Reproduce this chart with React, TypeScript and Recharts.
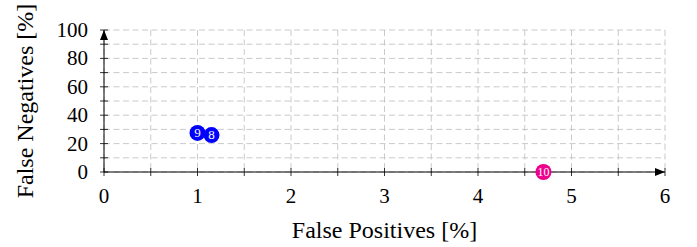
import { ScatterChart, Scatter, XAxis, YAxis, CartesianGrid } from 'recharts';

// values
const pointLabels = ['9', '8', '10'];
const falsePositives = [1.0, 1.15, 4.7];
const falseNegatives = [27.5, 26, 0];
const pointColors = ['#0000ff', '#0000ff', '#ec008c'];

const xTicks = [0, 0.5, 1, 1.5, 2, 2.5, 3, 3.5, 4, 4.5, 5, 5.5, 6];
const yTicks = [0, 10, 20, 30, 40, 50, 60, 70, 80, 90, 100];
const xLabelled = [0, 1, 2, 3, 4, 5, 6];
const yLabelled = [0, 20, 40, 60, 80, 100];

const FONT = "'Liberation Serif', 'Times New Roman', 'DejaVu Serif', serif";
const txt = { fontFamily: FONT };

const points = pointLabels.map((label, i) => ({
  label,
  fp: falsePositives[i],
  fn: falseNegatives[i],
  color: pointColors[i],
}));

function XTick(props: any) {
  const { x, y, payload } = props;
  const v = payload.value;
  return (
    <g>
      <line x1={x} x2={x} y1={y - 4} y2={y + 4} stroke="#000" strokeWidth={0.8} />
      {v === 6 && <polygon points={`${x},${y} ${x - 10},${y - 4} ${x - 10},${y + 4}`} fill="#000" />}
      {xLabelled.includes(v) && (
        <text x={x} y={y + 31} textAnchor="middle" style={txt} fontSize={21} fill="#000">
          {v}
        </text>
      )}
    </g>
  );
}

function YTick(props: any) {
  const { x, y, payload } = props;
  const v = payload.value;
  return (
    <g>
      <line x1={x - 4} x2={x + 4} y1={y} y2={y} stroke="#000" strokeWidth={0.8} />
      {v === 100 && <polygon points={`${x},${y} ${x - 4},${y + 10} ${x + 4},${y + 10}`} fill="#000" />}
      {yLabelled.includes(v) && (
        <text x={x - 16} y={y + 7} textAnchor="end" style={txt} fontSize={21} fill="#000">
          {v}
        </text>
      )}
    </g>
  );
}

function Dot(props: any) {
  const { cx, cy, payload } = props;
  return (
    <g>
      <circle cx={cx} cy={cy} r={8} fill={payload.color} />
      <text
        x={cx}
        y={cy + 4}
        textAnchor="middle"
        style={txt}
        fontSize={payload.label.length > 1 ? 12 : 13}
        fill="#fff"
      >
        {payload.label}
      </text>
    </g>
  );
}

export default function App() {
  return (
    <div style={{ position: 'absolute', left: 0, top: 0, background: '#fff', fontFamily: FONT }}>
      <ScatterChart width={697} height={247} margin={{ top: 30, right: 32, bottom: 0, left: 0 }}>
        <CartesianGrid stroke="#bdbdbd" strokeDasharray="6 3.5" strokeWidth={0.8} />
        <XAxis
          type="number"
          dataKey="fp"
          domain={[0, 6]}
          ticks={xTicks}
          interval={0}
          height={75}
          tickSize={0}
          tickMargin={0}
          axisLine={{ stroke: '#000', strokeWidth: 1 }}
          tick={<XTick />}
          label={{
            content: ({ viewBox }: any) => (
              <text
                x={viewBox.x + viewBox.width / 2}
                y={viewBox.y + 66}
                textAnchor="middle"
                style={txt}
                fontSize={24}
                fill="#000"
              >
                False Positives [%]
              </text>
            ),
          }}
        />
        <YAxis
          type="number"
          dataKey="fn"
          domain={[0, 100]}
          ticks={yTicks}
          interval={0}
          width={104}
          tickSize={0}
          tickMargin={0}
          axisLine={{ stroke: '#000', strokeWidth: 1 }}
          tick={<YTick />}
          label={{
            content: ({ viewBox }: any) => {
              const cx = 33;
              const cy = viewBox.y + viewBox.height / 2;
              return (
                <text
                  x={cx}
                  y={cy}
                  transform={`rotate(-90, ${cx}, ${cy})`}
                  textAnchor="middle"
                  style={txt}
                  fontSize={24}
                  fill="#000"
                >
                  False Negatives [%]
                </text>
              );
            },
          }}
        />
        <Scatter data={points} shape={<Dot />} isAnimationActive={false} />
      </ScatterChart>
    </div>
  );
}
